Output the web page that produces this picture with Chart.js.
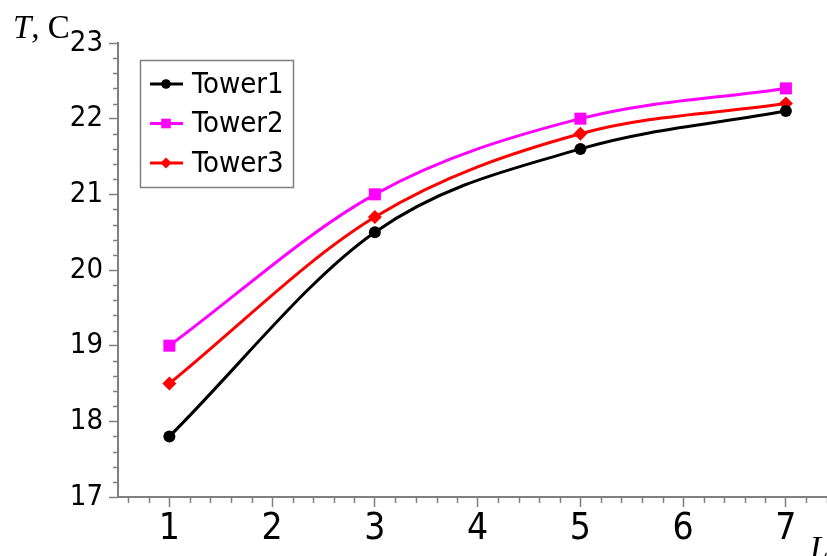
<!DOCTYPE html>
<html>
<head>
<meta charset="utf-8">
<script src="https://cdn.jsdelivr.net/npm/chart.js@4/dist/chart.umd.min.js"></script>
<style>
  body { margin: 0; background: #fff; }
  #wrap { position: relative; width: 827px; height: 556px; }
</style>
</head>
<body>
<div id="wrap"><canvas id="chart"></canvas></div>
<script>
// data
let xValues = [1, 3, 5, 7];
let tower1 = [17.8, 20.5, 21.6, 22.1];
let tower2 = [19.0, 21.0, 22.0, 22.4];
let tower3 = [18.5, 20.7, 21.8, 22.2];
let xTicks = [1, 2, 3, 4, 5, 6, 7];
let yTicks = [17, 18, 19, 20, 21, 22, 23];
let seriesNames = ["Tower1", "Tower2", "Tower3"];

let sansFont = "'Liberation Sans Narrow', 'DejaVu Sans Condensed', sans-serif";
let serifFont = "'Liberation Serif', serif";
let axisColor = "#808080";

function toPoints(ys) {
  return xValues.map((x, i) => ({ x: x, y: ys[i] }));
}

function makeSet(label, ys, color, style, radius) {
  return {
    label: label,
    data: toPoints(ys),
    borderColor: color,
    backgroundColor: color,
    borderWidth: 3,
    pointStyle: style,
    pointRadius: radius,
    pointHoverRadius: radius,
    pointBorderWidth: 0,
    cubicInterpolationMode: "monotone",
    fill: false
  };
}

// small marker for the legend, same shapes as chart.js uses
function legendMarker(ctx, style, r, x, y) {
  ctx.beginPath();
  if (style === "circle") {
    ctx.arc(x, y, r, 0, Math.PI * 2);
  } else if (style === "rect") {
    let s = r * Math.SQRT1_2;
    ctx.rect(x - s, y - s, 2 * s, 2 * s);
  } else {
    ctx.moveTo(x - r, y);
    ctx.lineTo(x, y - r);
    ctx.lineTo(x + r, y);
    ctx.lineTo(x, y + r);
    ctx.closePath();
  }
  ctx.fill();
}

// minor ticks, axis titles and the boxed legend inside the plot
let extras = {
  id: "extras",
  afterDraw(chart) {
    let ctx = chart.ctx;
    let xs = chart.scales.x;
    let ys = chart.scales.y;
    ctx.save();

    // minor ticks every 0.2
    ctx.strokeStyle = axisColor;
    ctx.lineWidth = 1.5;
    ctx.beginPath();
    for (let i = Math.ceil(xs.min * 5); i <= Math.floor(xs.max * 5); i++) {
      if (i % 5 === 0) continue;
      let px = Math.round(xs.getPixelForValue(i / 5)) + 0.5;
      ctx.moveTo(px, xs.top);
      ctx.lineTo(px, xs.top + 6);
    }
    for (let i = Math.ceil(ys.min * 5); i <= Math.floor(ys.max * 5); i++) {
      if (i % 5 === 0) continue;
      let py = Math.round(ys.getPixelForValue(i / 5)) + 0.5;
      ctx.moveTo(ys.right, py);
      ctx.lineTo(ys.right - 5, py);
    }
    ctx.stroke();

    // axis titles
    ctx.fillStyle = "#000";
    ctx.textBaseline = "alphabetic";
    ctx.textAlign = "left";
    ctx.font = "italic 33px " + serifFont;
    ctx.fillText("T", 13, 38);
    let tw = ctx.measureText("T").width;
    ctx.font = "33px " + serifFont;
    ctx.fillText(", C", 13 + tw, 38);
    ctx.font = "italic 33px " + serifFont;
    ctx.fillText("L", 810, 559);

    // legend box
    ctx.strokeStyle = axisColor;
    ctx.lineWidth = 1.5;
    ctx.strokeRect(140.5, 60.5, 153, 127);
    chart.data.datasets.forEach((ds, i) => {
      let y = 84 + i * 39.5;
      ctx.strokeStyle = ds.borderColor;
      ctx.lineWidth = 3;
      ctx.beginPath();
      ctx.moveTo(150, y);
      ctx.lineTo(183, y);
      ctx.stroke();
      ctx.fillStyle = ds.backgroundColor;
      legendMarker(ctx, ds.pointStyle, ds.pointRadius * 0.8, 166, y);
      ctx.fillStyle = "#000";
      ctx.font = "29px " + sansFont;
      ctx.textBaseline = "middle";
      ctx.fillText(ds.label, 192, y + 1);
    });
    ctx.restore();
  }
};

let config = {
  type: "line",
  data: {
    datasets: [
      makeSet(seriesNames[0], tower1, "#000000", "circle", 6),
      makeSet(seriesNames[1], tower2, "#ff00ff", "rect", 8.5),
      makeSet(seriesNames[2], tower3, "#ff0000", "rectRot", 7)
    ]
  },
  options: {
    responsive: true,
    maintainAspectRatio: false,
    animation: false,
    layout: { autoPadding: false, padding: { top: 43, right: 0, bottom: 0, left: 0 } },
    plugins: {
      legend: { display: false },
      tooltip: { enabled: false }
    },
    scales: {
      x: {
        type: "linear",
        min: 0.5,
        max: 7.4,
        afterBuildTicks: (s) => { s.ticks = xTicks.map((v) => ({ value: v })); },
        afterFit: (s) => { s.height = 59; s.paddingLeft = 0; s.paddingRight = 0; },
        grid: { drawOnChartArea: false, tickLength: 10, tickColor: axisColor, tickWidth: 1.5 },
        border: { color: axisColor, width: 2 },
        ticks: {
          color: "#000",
          padding: 0,
          maxRotation: 0,
          autoSkip: false,
          font: { family: sansFont, size: 37 }
        }
      },
      y: {
        min: 17,
        max: 23,
        afterBuildTicks: (s) => { s.ticks = yTicks.map((v) => ({ value: v })); },
        afterFit: (s) => { s.width = 118; },
        grid: { drawOnChartArea: false, tickLength: 9, tickColor: axisColor, tickWidth: 1.5 },
        border: { color: axisColor, width: 2 },
        ticks: {
          color: "#000",
          padding: 6,
          font: { family: sansFont, size: 29 }
        }
      }
    }
  },
  plugins: [extras]
};

window.onload = function () {
  let ctx = document.getElementById("chart").getContext("2d");
  window.chart = new Chart(ctx, config);
};
</script>
</body>
</html>
